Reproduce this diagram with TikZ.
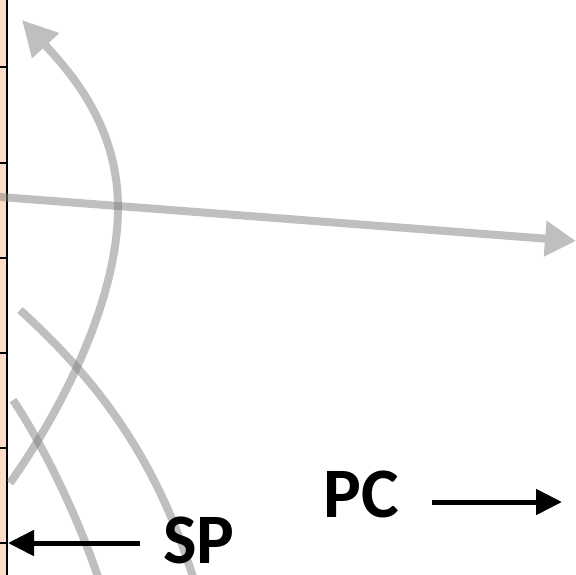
\documentclass[tikz,border=0pt]{standalone}
\usepackage{fontspec}
\setmainfont{Carlito}
\usetikzlibrary{arrows.meta}
\definecolor{peach}{RGB}{253,221,200}
\definecolor{greyline}{RGB}{128,128,128}
\tikzset{
  greyarc/.style={draw=greyline, line width=8pt, line cap=butt},
  greyhead/.style={-{Triangle[length=#1,width=35pt]}},
  blackarrow/.style={draw=black, line width=5pt, -{Triangle[length=26pt,width=25pt]}},
  biglabel/.style={font=\fontsize{71}{71}\selectfont\bfseries, text=black, inner sep=0pt, text depth=0pt, anchor=center},
  tick/.style={draw=black, line width=2.5pt}
}
\begin{document}
\begin{tikzpicture}[x=1pt, y=-1pt]
\useasboundingbox (0,0) rectangle (576,574);
\clip (0,0) rectangle (576,574);
% left strip
\fill[peach] (0,-5) rectangle (6,580);
\draw[black, line width=2.5pt] (7,-5) -- (7,580);
\foreach \yy in {67,163,258,353,448,543} {
  \draw[tick] (0,\yy) -- (7,\yy);
}
% grey curves
\begin{scope}[transparency group, opacity=0.5]
  \draw[greyarc, greyhead=35pt] (10,483) .. controls (72,395) and (118,290) .. (118,208)
        .. controls (118,125) and (70,72) .. (22,20);
\end{scope}
\begin{scope}[transparency group, opacity=0.5]
  \draw[greyarc, -{Triangle[length=31pt,width=34pt]}] (-10,196.2) -- (576,241);
\end{scope}
\begin{scope}[transparency group, opacity=0.5]
  \draw[greyarc] (20,310) .. controls (80,365) and (150,440) .. (192,574) -- (197,590);
\end{scope}
\begin{scope}[transparency group, opacity=0.5]
  \draw[greyarc] (13,400) .. controls (40,440) and (75,510) .. (97,574) -- (103,590);
\end{scope}
% labels
\node[biglabel, anchor=base] (sp) at (199,563) {SP};
\node[biglabel, anchor=base] (pc) at (361,517) {PC};
\coordinate (spstart) at (140,543);
\coordinate (spend) at (8,543);
\coordinate (pcstart) at (432,502);
\coordinate (pcend) at (562,502);
\draw[blackarrow] (spstart) -- (spend);
\draw[blackarrow] (pcstart) -- (pcend);
\end{tikzpicture}
\end{document}
